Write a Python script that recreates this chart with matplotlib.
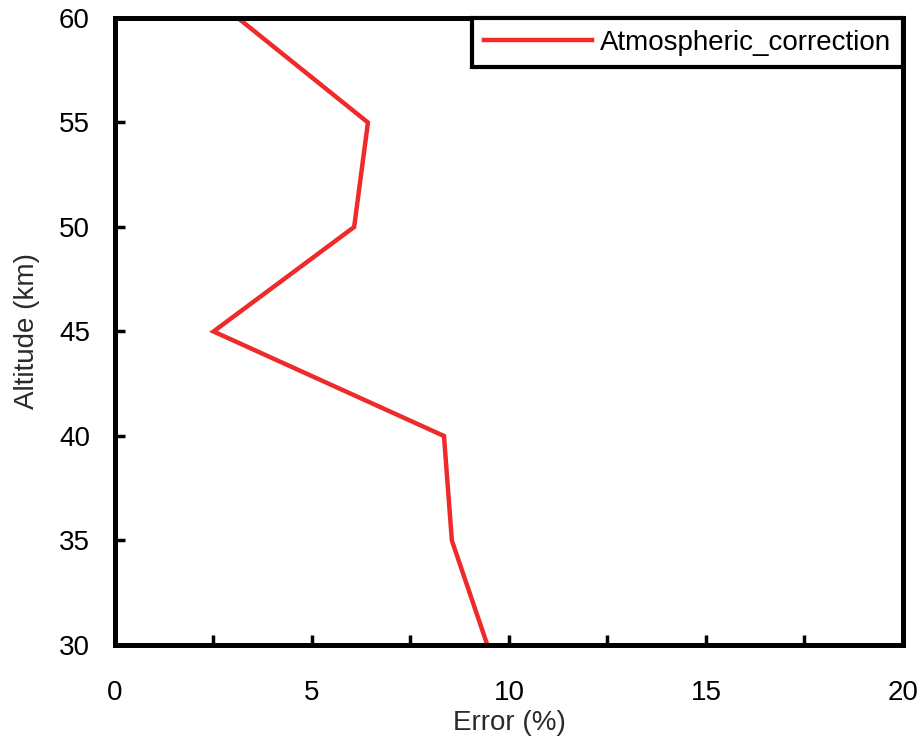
import matplotlib
matplotlib.use("Agg")
import matplotlib.pyplot as plt

altitude = [30, 35, 40, 45, 50, 55, 60]
error = [9.45, 8.55, 8.35, 2.5, 6.07, 6.42, 3.12]
series_name = "Atmospheric_correction"
x_ticks = [0, 5, 10, 15, 20]
y_ticks = [30, 35, 40, 45, 50, 55, 60]

plt.rcParams['font.family'] = ['Liberation Sans', 'DejaVu Sans']

fig = plt.figure(figsize=(9.2, 7.41), dpi=100)
ax = fig.add_axes([0.125, 0.1296, 0.8565, 0.8461])
ax.plot(error, altitude, color='#ee2a2a', lw=3.2, label=series_name, solid_joinstyle='miter')
ax.set_xlim(0, 20)
ax.set_ylim(30, 60)
ax.set_xticks(x_ticks)
ax.set_xticks([2.5, 7.5, 12.5, 17.5], minor=True)
ax.set_yticks(y_ticks)
ax.tick_params(which='both', direction='in', width=2.5, length=7, labelsize=20)
ax.tick_params(axis='x', pad=25)
ax.tick_params(axis='y', pad=18)
for s in ax.spines.values():
    s.set_linewidth(3.6)
ax.set_xlabel("Error (%)", fontsize=20, color='#2a2a2a', labelpad=3)
ax.set_ylabel("Altitude (km)", fontsize=20, color='#2a2a2a', labelpad=14)
leg = ax.legend(loc='upper right', fontsize=20, fancybox=False, borderaxespad=0,
                handlelength=3.9, handletextpad=0.3, edgecolor='black', framealpha=1,
                borderpad=0.42)
leg.get_frame().set_linewidth(3)
fig.savefig("out.png", dpi=100)
